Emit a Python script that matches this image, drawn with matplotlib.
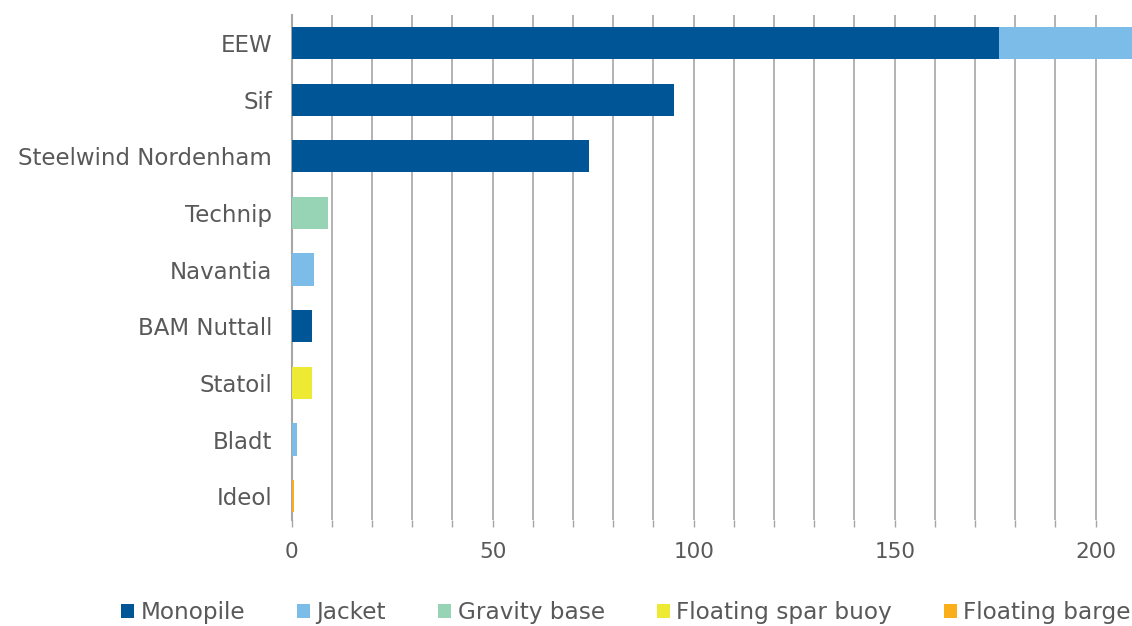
import matplotlib.pyplot as plt
import numpy as np

plt.rcParams["font.family"] = ["DejaVu Sans"]

companies = ["EEW", "Sif", "Steelwind Nordenham", "Technip", "Navantia",
             "BAM Nuttall", "Statoil", "Bladt", "Ideol"]
series_names = ["Monopile", "Jacket", "Gravity base", "Floating spar buoy", "Floating barge"]
monopile = [176, 95, 74, 0, 0, 5, 0, 0, 0]
jacket = [40, 0, 0, 0, 5.5, 0, 0, 1.3, 0]
gravity_base = [0, 0, 0, 9, 0, 0, 0, 0, 0]
spar_buoy = [0, 0, 0, 0, 0, 0, 5, 0, 0]
barge = [0, 0, 0, 0, 0, 0, 0, 0, 0.6]
colors = ["#005596", "#7bbde8", "#97d3b5", "#eee933", "#f9ae1a"]

text_color = "#595959"
grid_color = "#a6a6a6"

fig = plt.figure(figsize=(11.32, 6.26), dpi=100)
W, H = 1132, 626
x0, x1 = 291.7, 291.7 + 4.02 * 210
top, bottom = 15, 520
ax = fig.add_axes([x0 / W, 1 - bottom / H, (x1 - x0) / W, (bottom - top) / H])

y = np.arange(len(companies))
left = np.zeros(len(companies))
for name, vals, c in zip(series_names, [monopile, jacket, gravity_base, spar_buoy, barge], colors):
    vals = np.array(vals, dtype=float)
    ax.barh(y, vals, left=left, height=0.57, color=c, label=name, zorder=3)
    left += vals

ax.set_ylim(len(companies) - 0.58, -0.495)
ax.set_xlim(0, 210)
ticks = np.arange(0, 211, 10)
ax.set_xticks(ticks)
ax.set_xticklabels([str(t) if t % 50 == 0 else "" for t in ticks])
ax.set_yticks(y)
ax.set_yticklabels(companies)
ax.grid(axis="x", color=grid_color, linewidth=1.2, zorder=0)
for s in ["top", "right", "bottom"]:
    ax.spines[s].set_visible(False)
ax.spines["left"].set_color(grid_color)
ax.spines["left"].set_linewidth(1.5)
ax.tick_params(axis="x", length=5, color=grid_color, width=1, colors=text_color,
               labelsize=15.5, pad=11)
ax.tick_params(axis="y", length=0, colors=text_color, labelsize=16.5, pad=14)

fig.legend(loc="center left", bbox_to_anchor=(112 / W, 1 - 613 / H), ncol=5,
           frameon=False, fontsize=16.7, handlelength=0.55, handleheight=0.55,
           handletextpad=0.28, columnspacing=2.25, labelcolor=text_color,
           borderaxespad=0)

fig.savefig("out.png", dpi=100)
